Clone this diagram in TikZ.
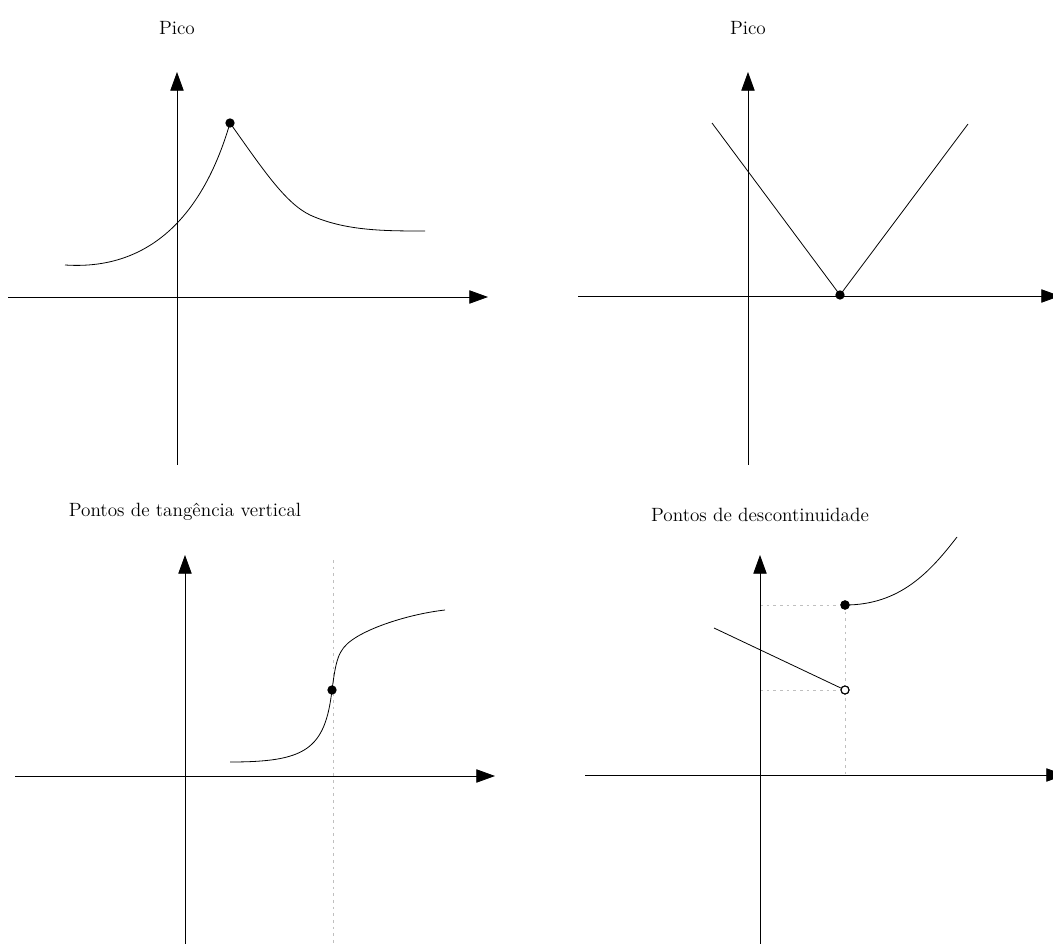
\documentclass[tikz,border=0pt]{standalone}
\usetikzlibrary{arrows.meta}
\begin{document}
\begin{tikzpicture}[x=0.75pt,y=-0.75pt,
  axis/.style={line width=0.6pt,-{Triangle[length=14pt,width=10pt]}},
  curve/.style={line width=0.6pt},
  guide/.style={gray!50,line width=0.5pt,dash pattern=on 2pt off 3pt},
  fdot/.style={circle,fill=black,inner sep=0pt,minimum size=7pt},
  odot/.style={circle,draw=black,fill=white,line width=0.8pt,inner sep=0pt,minimum size=6pt},
  ttl/.style={font=\Large}]
\useasboundingbox (0,0) rectangle (1053,944);
% ---------- Panel 1 ----------
\node[ttl] (t1) at (177,28) {Pico};
\draw[axis] (8,297) -- (488,297);
\draw[axis] (177,465) -- (177,72);
\coordinate (a1) at (65,265);
\coordinate (a3) at (425,231);
\node[fdot] (p1) at (230,123) {};
\draw[curve] (a1) .. controls (170,272) and (212,185) .. (p1.center)
  .. controls (262,168) and (285,203) .. (310,215)
  .. controls (345,231) and (385,231) .. (a3);
% ---------- Panel 2 ----------
\node[ttl] (t2) at (748,28) {Pico};
\draw[axis] (578,296) -- (1060,296);
\draw[axis] (748,465) -- (748,72);
\coordinate (b1) at (712,123);
\coordinate (b3) at (968,124);
\node[fdot] (p2) at (840,295) {};
\draw[curve] (b1) -- (p2.center) -- (b3);
% ---------- Panel 3 ----------
\node[ttl] (t3) at (185,512) {Pontos de tangência vertical};
\coordinate (g1) at (333,560);
\coordinate (g2) at (333,944);
\draw[guide] (g1) -- (g2);
\draw[axis] (15,776) -- (495,776);
\draw[axis] (185,944) -- (185,555);
\coordinate (c1) at (230,762);
\coordinate (c3) at (445,610);
\node[fdot] (p3) at (332,690) {};
\draw[curve] (c1) .. controls (305,762) and (325,750) .. (p3.center)
  .. controls (336,660) and (338,650) .. (352,640)
  .. controls (370,627) and (410,614) .. (c3);
% ---------- Panel 4 ----------
\node[ttl] (t4) at (760,515) {Pontos de descontinuidade};
\coordinate (y1) at (760,605);
\coordinate (y2) at (760,690);
\coordinate (x1) at (845,775);
\node[fdot] (p4) at (845,605) {};
\node[odot] (p5) at (845,690) {};
\draw[guide] (y1) -- (p4.center);
\draw[guide] (y2) -- (p5.center);
\draw[guide] (p4.center) -- (x1);
\draw[axis] (585,775) -- (1065,775);
\draw[axis] (760,944) -- (760,555);
\coordinate (d1) at (714,628);
\coordinate (d3) at (957,537);
\draw[curve] (d1) -- (p5);
\draw[curve] (p4.center) .. controls (900,605) and (930,572) .. (d3);
\node[fdot] at (p4) {};
\node[odot] at (p5) {};
\end{tikzpicture}
\end{document}
